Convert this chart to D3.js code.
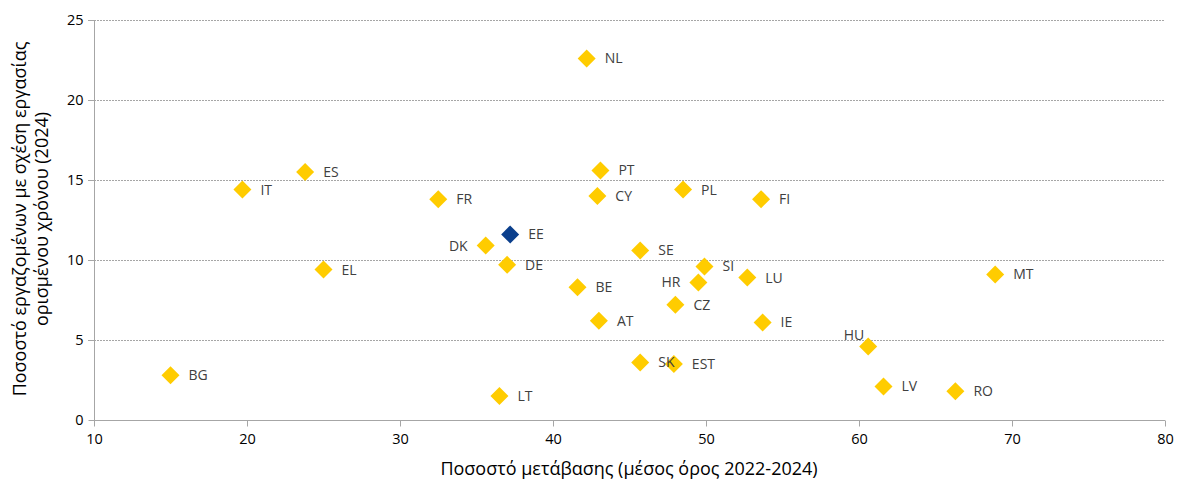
<!DOCTYPE html>
<html><head><meta charset="utf-8">
<script src="https://cdn.jsdelivr.net/npm/d3@7"></script>
<style>body{margin:0;background:#fff}svg{display:block}</style>
</head><body>
<svg id="c" width="1180" height="480"></svg>
<script>
const countries = ["NL","IT","ES","FR","DK","EE","DE","EL","BG","PT","CY","PL","FI","SE","SI","LU","HR","BE","CZ","AT","IE","HU","SK","EST","LT","LV","RO","MT"];
const transition = [42.2,19.7,23.8,32.5,35.6,37.2,37.0,25.0,15.0,43.1,42.9,48.5,53.6,45.7,49.9,52.7,49.5,41.6,48.0,43.0,53.7,60.6,45.7,47.9,36.5,61.6,66.3,68.9];
const temporary = [22.6,14.4,15.5,13.8,10.9,11.6,9.7,9.4,2.8,15.6,14.0,14.4,13.8,10.6,9.6,8.9,8.6,8.3,7.2,6.2,6.1,4.6,3.6,3.5,1.5,2.1,1.8,9.1];
const highlighted = ["EE"];
const leftLabels = ["DK","HR","HU"];
const xTicks = [10,20,30,40,50,60,70,80];
const yTicks = [0,5,10,15,20,25];
const xTitle = "Ποσοστό μετάβασης (μέσος όρος 2022-2024)";
const yTitle = ["Ποσοστό εργαζομένων με σχέση εργασίας","ορισμένου χρόνου (2024)"];

const FONT = "Open Sans, Noto Sans, sans-serif";
const svg = d3.select("#c");
const x = d3.scaleLinear().domain([10,80]).range([94,1165]);
const y = d3.scaleLinear().domain([0,25]).range([420,20]);

// grid
svg.append("g").selectAll("line").data(yTicks.filter(d=>d>0)).join("line")
  .attr("x1",88).attr("x2",x(80)).attr("y1",d=>y(d)+0.5).attr("y2",d=>y(d)+0.5)
  .attr("stroke","#a6a6a6").attr("stroke-width",1).attr("stroke-dasharray","2,1");

// y axis
const ya = svg.append("g").attr("transform","translate(94.5,0)")
  .call(d3.axisLeft(y).tickValues(yTicks).tickSize(6).tickPadding(5).tickFormat(d3.format("d")));
ya.select(".domain").attr("stroke","#a6a6a6").attr("d",`M0,${y(25)}V${y(0)}`);
ya.selectAll(".tick line").attr("stroke","#a6a6a6");
ya.selectAll(".tick text").attr("font-family",FONT).attr("font-size",14.5).attr("fill","#000");

// x axis
const xa = svg.append("g").attr("transform",`translate(0,${y(0)+0.5})`)
  .call(d3.axisBottom(x).tickValues(xTicks).tickSize(6).tickPadding(7).tickFormat(d3.format("d")));
xa.select(".domain").attr("stroke","#a6a6a6").attr("d",`M${x(10)},0H${x(80)}`);
xa.selectAll(".tick line").attr("stroke","#a6a6a6");
xa.selectAll(".tick text").attr("font-family",FONT).attr("font-size",14.5).attr("fill","#000");

// titles
svg.append("text").attr("x",629).attr("y",475).attr("text-anchor","middle")
  .attr("font-family",FONT).attr("font-size",18).attr("fill","#000").text(xTitle);
const yt = svg.append("text").attr("transform","translate(26,219) rotate(-90)").attr("text-anchor","middle")
  .attr("font-family",FONT).attr("font-size",18).attr("fill","#000");
yTitle.forEach((t,i)=>yt.append("tspan").attr("x",0).attr("dy",i?22:0).text(t));

// points
const data = countries.map((c,i)=>({c,x:transition[i],y:temporary[i]}));
const diamond = "M0,-9L9,0L0,9L-9,0Z";
svg.append("g").selectAll("path").data(data).join("path")
  .attr("d",diamond).attr("transform",d=>`translate(${x(d.x)},${y(d.y)})`)
  .attr("fill",d=>highlighted.includes(d.c)?"#0B3F8C":"#FFCC00");

svg.append("g").selectAll("text").data(data).join("text")
  .attr("x",d=>{const px=x(d.x); if(d.c==="HU") return px-4; return leftLabels.includes(d.c)?px-18:px+18;})
  .attr("y",d=>d.c==="HU"? y(d.y)-6 : y(d.y)+5)
  .attr("text-anchor",d=>leftLabels.includes(d.c)?"end":"start")
  .attr("font-family",FONT).attr("font-size",14).attr("fill","#404040")
  .text(d=>d.c);
</script>
</body></html>
